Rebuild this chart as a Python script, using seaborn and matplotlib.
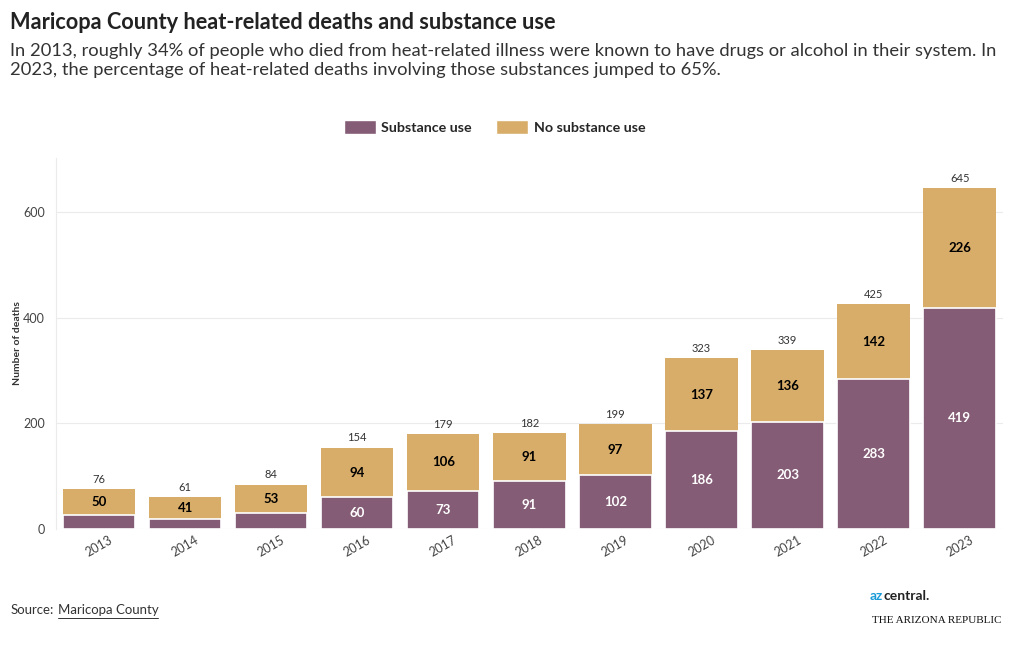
#!/usr/bin/env python3
import matplotlib.pyplot as plt
import seaborn as sns
import pandas as pd
from matplotlib.patches import Patch

years = ["2013", "2014", "2015", "2016", "2017", "2018", "2019", "2020", "2021", "2022", "2023"]
substance_use = [26, 20, 31, 60, 73, 91, 102, 186, 203, 283, 419]
no_substance_use = [50, 41, 53, 94, 106, 91, 97, 137, 136, 142, 226]

PURPLE = "#845c75"
TAN = "#d8ad6a"
FONT = ["Lato", "DejaVu Sans"]

df = pd.DataFrame({"year": years, "substance": substance_use, "none": no_substance_use})
df["total"] = df["substance"] + df["none"]

sns.set_style("white")
plt.rcParams["font.family"] = FONT

fig = plt.figure(figsize=(10.2, 6.5), dpi=100)
ax = fig.add_axes([0.055, 0.186, 0.928, 0.571])

# stacked look: totals in tan, substance use drawn over it
sns.barplot(data=df, x="year", y="total", color=TAN, width=0.84, ax=ax,
            saturation=1, edgecolor="none")
sns.barplot(data=df, x="year", y="substance", color=PURPLE, width=0.84, ax=ax,
            saturation=1, edgecolor="white", linewidth=1.2)

for i, row in df.iterrows():
    ax.text(i, row["total"] + 8, f"{row['total']}", ha="center", va="bottom",
            fontsize=8, color="#333333")
    ax.text(i, row["substance"] + row["none"] / 2, f"{row['none']}", ha="center",
            va="center", fontsize=9.5, fontweight="bold", color="black")
    if row["substance"] >= 50:
        ax.text(i, row["substance"] / 2, f"{row['substance']}", ha="center",
                va="center", fontsize=9.5, fontweight="bold", color="white")

ax.set_xlim(-0.5, len(years) - 0.5)
ax.set_ylim(0, 702)
ax.set_yticks([0, 200, 400, 600])
ax.yaxis.grid(True, color="#ebebeb", linewidth=0.8)
ax.set_axisbelow(True)
for s in ["top", "right", "bottom"]:
    ax.spines[s].set_visible(False)
ax.spines["left"].set_color("#ebebeb")
ax.tick_params(axis="both", length=0, labelsize=9, labelcolor="#444444")
ax.tick_params(axis="y", pad=8)
plt.setp(ax.get_xticklabels(), rotation=30)
ax.set_xlabel("")
ax.set_ylabel("Number of deaths", fontsize=7.5, fontweight="bold", color="#333333")
ax.yaxis.set_label_coords(-0.0365, 0.5)

fig.text(0.010, 0.965, "Maricopa County heat-related deaths and substance use",
         fontsize=15.7, fontweight="bold", color="#222222", va="center")
fig.text(0.010, 0.907,
         "In 2013, roughly 34% of people who died from heat-related illness were known to have drugs or alcohol in their system. In\n"
         "2023, the percentage of heat-related deaths involving those substances jumped to 65%.",
         fontsize=13.2, color="#333333", va="center", linespacing=1.25)

handles = [Patch(facecolor=PURPLE, label="Substance use"),
           Patch(facecolor=TAN, label="No substance use")]
fig.legend(handles=handles, loc="center", bbox_to_anchor=(0.485, 0.805), ncol=2,
           frameon=False, prop={"family": FONT, "weight": "bold", "size": 10.3},
           handlelength=2.2, handleheight=1.1, columnspacing=1.7, handletextpad=0.4)

# source line with underlined link text
fig.canvas.draw()
r = fig.canvas.get_renderer()
src = fig.text(0.010, 0.061, "Source:", fontsize=9.5, color="#333333", va="center")
x1 = src.get_window_extent(r).x1 / 1020 + 0.004
link = fig.text(x1, 0.061, "Maricopa County", fontsize=9.5, color="#333333", va="center")
bb = link.get_window_extent(r)
fig.add_artist(plt.Line2D([bb.x0 / 1020, bb.x1 / 1020], [0.050, 0.050],
                          color="#333333", linewidth=0.7))

az = fig.text(0.853, 0.083, "az", fontsize=10, fontweight="bold", color="#1a9bd7", va="center")
fig.text(az.get_window_extent(r).x1 / 1020, 0.083, "central.", fontsize=10,
         fontweight="bold", color="#222222", va="center")
fig.text(0.855, 0.045, "THE ARIZONA REPUBLIC", fontsize=8, color="#111111", va="center",
         family=["Liberation Serif", "DejaVu Serif"])

fig.savefig("out.png", dpi=100)
